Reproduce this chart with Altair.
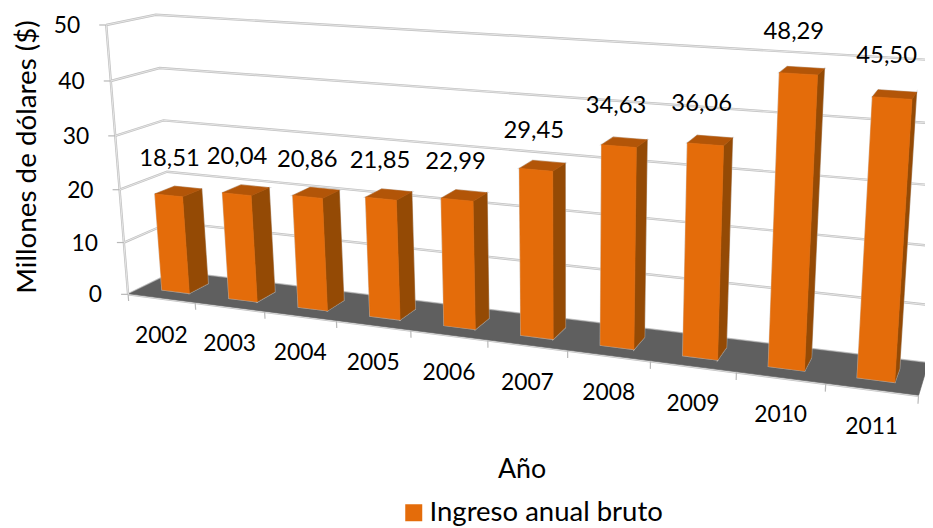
import numpy as np
import pandas as pd
import altair as alt

# ---- chart values
years = ["2002", "2003", "2004", "2005", "2006", "2007", "2008", "2009", "2010", "2011"]
values = [18.51, 20.04, 20.86, 21.85, 22.99, 29.45, 34.63, 36.06, 48.29, 45.50]
y_ticks = [0, 10, 20, 30, 40, 50]
series_name = "Ingreso anual bruto"
x_title = "Año"
y_title = "Millones de dólares ($)"

FONT = "Lato"
FRONT, SIDE, TOP = "#E46C0A", "#944A05", "#B25508"
FLOOR = "#5F5F5F"
GRID_OUT, GRID_IN = "#C2C2C2", "#EDEDED"

# ---- 3D camera: (category, depth, value) -> picture position, calibrated on the chart frame
frame_world = [(0,0,0),(10,0,0),(0,1,0),(10,1,0),(0,0,50),(0,1,50),(10,1,50),(10,0,50),(0,0,20),(0,1,20),(10,1,10),
               (2,0,0),(5,0,0),(8,0,0)]
frame_view = [(128,294),(920,395),(176,275),(928,363),(107,24),(155,14),(948,58),(940,82),(120,189),(167,172),(932,305),
              (263,311),(486,340),(737,372)]
A, b = [], []
for (X, D, Z), (u, v) in zip(frame_world, frame_view):
    A.append([X, D, Z, 1, 0, 0, 0, 0, -u*X, -u*D, -u*Z]); b.append(u)
    A.append([0, 0, 0, 0, X, D, Z, 1, -v*X, -v*D, -v*Z]); b.append(v)
p = np.linalg.lstsq(np.array(A, float), np.array(b, float), rcond=None)[0]
def proj(X, D, Z):
    w = p[8]*X + p[9]*D + p[10]*Z + 1
    return ((p[0]*X + p[1]*D + p[2]*Z + p[3]) / w, (p[4]*X + p[5]*D + p[6]*Z + p[7]) / w)

def area_rows(poly, key):
    """Convex polygon -> rows of x / y / y2 for an area mark."""
    xs = sorted({q[0] for q in poly})
    rows = []
    n = len(poly)
    for x in xs:
        ys = []
        for i in range(n):
            (x0, y0), (x1, y1) = poly[i], poly[(i+1) % n]
            if min(x0, x1) <= x <= max(x0, x1):
                if x0 == x1:
                    ys += [y0, y1]
                else:
                    ys.append(y0 + (x - x0) / (x1 - x0) * (y1 - y0))
        rows.append({"x": x, "y": min(ys), "y2": max(ys), "k": key})
    return pd.DataFrame(rows)

B0, B1, D0, D1 = 0.30, 0.71, 0.30, 0.72
front, side, top = [], [], []
for i, v in enumerate(values):
    X0, X1 = i + B0, i + B1
    front.append(area_rows([proj(X0,D0,0), proj(X1,D0,0), proj(X1,D0,v), proj(X0,D0,v)], years[i]))
    side.append(area_rows([proj(X1,D0,0), proj(X1,D1,0), proj(X1,D1,v), proj(X1,D0,v)], years[i]))
    top.append(area_rows([proj(X0,D0,v), proj(X1,D0,v), proj(X1,D1,v), proj(X0,D1,v)], years[i]))
front = pd.concat(front).assign(serie=series_name)
side = pd.concat(side)
top = pd.concat(top)
floor = area_rows([proj(0,0.02,0), proj(10,0.02,0), proj(10,1,0), proj(0,1,0)], "floor")

# grid polylines
lines = []
for z in y_ticks:
    for o, q in enumerate([proj(0,0,z), proj(0,1,z), proj(10,1,z)]):
        lines.append({"k": f"g{z}", "o": o, "x": q[0], "y": q[1]})
for o, q in enumerate([proj(0,0,0), proj(0,0,50)]):
    lines.append({"k": "axis", "o": o, "x": q[0], "y": q[1]})
for o, q in enumerate([proj(0,0,0), proj(10,0,0)]):
    lines.append({"k": "base", "o": o, "x": q[0], "y": q[1]})
lines = pd.DataFrame(lines)

ticks = []
for i in range(len(years) + 1):
    for o, z in enumerate([0, -1.3]):
        q = proj(i, 0, z)
        ticks.append({"k": f"t{i}", "o": o, "x": q[0], "y": q[1]})
for z in y_ticks:
    q = proj(0, 0, z)
    ticks.append({"k": f"l{z}", "o": 0, "x": q[0], "y": q[1]})
    ticks.append({"k": f"l{z}", "o": 1, "x": q[0] - 7, "y": q[1]})
ticks = pd.DataFrame(ticks)

val_labels = pd.DataFrame([
    {"x": proj(i+0.5, 0.5, v*1.03)[0] - 8, "y": proj(i+0.5, 0.5, v*1.03)[1] - 30, "t": f"{v:.2f}".replace(".", ",")}
    for i, v in enumerate(values)])
cat_labels = pd.DataFrame([
    {"x": proj(i+0.5, 0, 0)[0], "y": proj(i+0.5, 0, 0)[1] + 37, "t": y}
    for i, y in enumerate(years)])
y_labels = pd.DataFrame([
    {"x": proj(0, 0, z)[0] - 26, "y": proj(0, 0, z)[1] + 1, "t": str(z)} for z in y_ticks])

# ---- scales: picture space (the page keeps the drawing inside its 917px body)
W, H = 917, 518
sx = alt.Scale(domain=[8, 8 + W], nice=False, zero=False)
sy = alt.Scale(domain=[8 + H, 8], nice=False, zero=False)
X = alt.X("x:Q", scale=sx, axis=None)
Y = alt.Y("y:Q", scale=sy, axis=None, stack=None)
Y2 = alt.Y2("y2:Q")

def line_layer(df, color, width):
    return alt.Chart(df).mark_line(color=color, strokeWidth=width, clip=True).encode(
        x=X, y=Y, detail="k:N", order="o:Q")

def face(df, color, width=0.6, opacity=1):
    return alt.Chart(df).mark_area(color=color, stroke=color, strokeWidth=width, opacity=opacity).encode(
        x=X, y=Y, y2=Y2, detail="k:N")

def texts(df, size=24, align="center", **kw):
    return alt.Chart(df).mark_text(font=FONT, fontSize=size, color="#000000", align=align,
                                   baseline="middle", **kw).encode(x=X, y=Y, text="t:N")

front_layer = alt.Chart(front).mark_area(stroke=FRONT, strokeWidth=0.6).encode(
    x=X, y=Y, y2=Y2, detail="k:N",
    color=alt.Color("serie:N", scale=alt.Scale(domain=[series_name], range=[FRONT]),
                    legend=alt.Legend(orient="none", legendX=392, legendY=491, title=None,
                                      labelFont=FONT, labelFontSize=27.5, labelColor="#000000",
                                      symbolType="square", symbolSize=289, symbolStrokeWidth=0,
                                      labelOffset=2, labelLimit=400)))

x_title_df = pd.DataFrame([{"x": 522, "y": 470, "t": x_title}])
y_title_df = pd.DataFrame([{"x": 28, "y": 157, "t": y_title}])

chart = alt.layer(
    line_layer(lines, GRID_OUT, 2.4),
    line_layer(lines, GRID_IN, 0.8),
    line_layer(ticks, "#B8B8B8", 1.2),
    face(floor, FLOOR),
    face(side, "#CFCFCF", 1.6, 0.7),
    face(top, "#CFCFCF", 1.6, 0.7),
    face(front.drop(columns="serie"), "#CFCFCF", 1.6, 0.7),
    face(side, SIDE),
    face(top, TOP),
    front_layer,
    texts(val_labels, size=23.8),
    texts(cat_labels, size=22.8),
    texts(y_labels, size=22.8, align="right"),
    texts(x_title_df, size=26.8),
    texts(y_title_df, size=27.75, angle=270),
).properties(width=W, height=H, padding=0, autosize=alt.AutoSizeParams(type="none")).configure_view(stroke=None)

chart.save("out.html", embed_options={"renderer": "svg", "actions": False})
